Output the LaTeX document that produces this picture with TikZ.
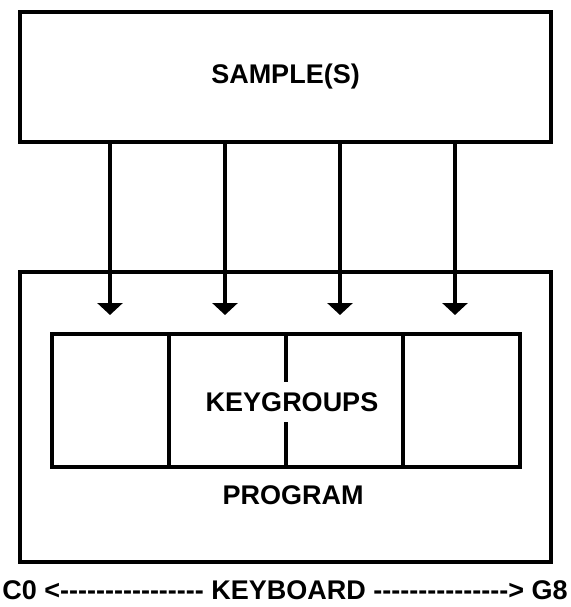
\documentclass[tikz,border=0pt]{standalone}
\usepackage{fontspec}
\setmainfont{Liberation Sans}[Ligatures=TeXOff]
\usepackage{tikz}
\usetikzlibrary{arrows.meta}
\usetikzlibrary{positioning}

\begin{document}
\begin{tikzpicture}[x=1pt,y=-1pt,line width=4pt,font=\fontsize{27}{31}\selectfont\bfseries]
			\useasboundingbox (0,0) rectangle (570,607);
			\node[draw=black,minimum width=531,minimum height=130] (S) at (285.5,77) {SAMPLE(S)};
			\node[draw=black,minimum width=531,minimum height=290] (P) at (285.5,417) {};
			
			\foreach \i in {1,...,4} {
				\node[draw=black,minimum width=117,minimum height=133] (K\i) at ({52+(\i-0.5)*117},400.5) {};
			}
			\node[fill=white,inner xsep=0pt,inner ysep=10pt] (KG) at (292,402) {KEYGROUPS};
			\node (PL) at (293,495) {PROGRAM};
			
			\foreach \i in {1,...,4} {
				\pgfmathtruncatemacro{\xa}{110 + (\i - 1) * 115}
				\coordinate (A\i) at (\xa,315);
				\draw[-{Triangle[width=25pt,length=12pt]}] (S.south -| A\i) -- (A\i);
			}
			
			\node (KB) at (285,590) {C0 <---------------- KEYBOARD ---------------> G8};
		\end{tikzpicture}
\end{document}
